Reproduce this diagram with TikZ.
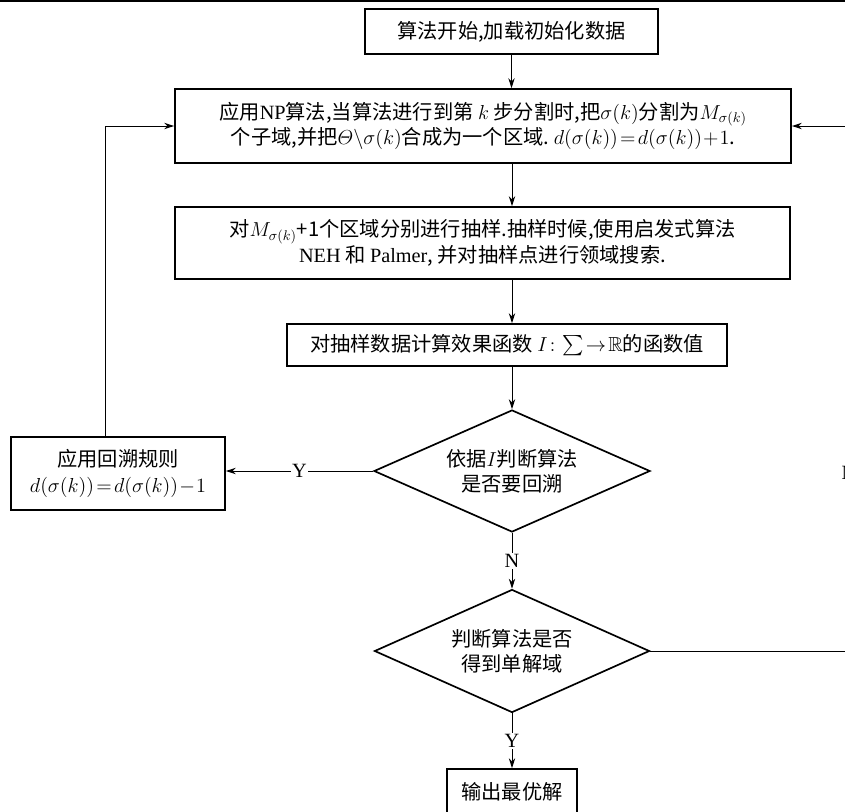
\documentclass[tikz,border=0pt]{standalone}
\usepackage{amsmath}
\usepackage{amssymb}
\usepackage{fontspec}
\setmainfont{Noto Sans CJK SC}
\newfontfamily\tnr{Liberation Serif}
\usepackage{tikz}
\usetikzlibrary{shapes.geometric,arrows.meta}

\begin{document}
\begin{tikzpicture}[x=0.025cm, y=-0.025cm, font=\Large,
	box/.style={draw, line width=1.2pt, align=center, inner sep=0pt},
	decide/.style={draw, line width=1.2pt, diamond, aspect=2.25, align=center, inner sep=0pt},
	flow/.style={line width=0.7pt, -{Stealth[length=7pt,width=4.5pt]}},
	tag/.style={fill=white, inner sep=1pt, font=\Large\tnr}]
	\useasboundingbox (0,0) rectangle (845,811);
	\clip (0,0) rectangle (845,811);
	\draw[line width=1.2pt] (0,1) -- (845,1);

	\node[box, minimum width=7.325cm, minimum height=1.125cm] (start) at (511.5,31.5) {算法开始,加载初始化数据};
	\node[box, minimum width=15.4cm, minimum height=1.85cm] (np) at (483,126)
		{应用{\tnr NP}算法,当算法进行到第 $k$ 步分割时,把$\sigma(k)$分割为$M_{\sigma(k)}$\\
		 个子域,并把$\varTheta\backslash\sigma(k)$合成为一个区域.\ $d(\sigma(k))\!=\!d(\sigma(k))\!+\!1$.};
	\node[box, minimum width=15.375cm, minimum height=1.8cm] (sample) at (482.5,243)
		{对$M_{\sigma(k)}$+1个区域分别进行抽样.抽样时候,使用启发式算法\\
		 {\tnr NEH} 和 {\tnr Palmer}, 并对抽样点进行领域搜索.};
	\node[box, minimum width=11cm, minimum height=1.05cm] (eval) at (507,345)
		{对抽样数据计算效果函数 $I\colon\!\textstyle\sum\!\rightarrow\!\mathbb{R}$的函数值};
	\node[decide, minimum width=6.9cm, minimum height=3.05cm] (dia1) at (512,471) {依据$I$判断算法\\是否要回溯};
	\node[box, minimum width=5.35cm, minimum height=1.825cm] (back) at (118,473.5)
		{应用回溯规则\\$d(\sigma(k))\!=\!d(\sigma(k))\!-\!1$};
	\node[decide, minimum width=6.875cm, minimum height=3.075cm] (dia2) at (512,651) {判断算法是否\\得到单解域};
	\node[box, minimum width=3.25cm, minimum height=1.125cm] (out) at (512,791.5) {输出最优解};
	\coordinate (rturn) at (849,651);

	\path[flow]
	(start) edge (start |- np.north)
	(np.south -| dia1) edge (sample.north -| dia1)
	(sample.south -| dia1) edge (eval.north -| dia1)
	(eval.south -| dia1) edge (dia1.north)
	(dia1.west) edge node[tag] {Y} (dia1.west -| back.east)
	(dia1.south) edge node[tag] {N} (dia2.north)
	(dia2.south) edge node[tag] {Y} (out.north);

	\draw[flow] ([xshift=-0.325cm]back.north) |- (np.west);
	\draw[flow] (dia2.east) -- (rturn) |- node[tag, pos=0.17] {N} (np.east);
\end{tikzpicture}
\end{document}
